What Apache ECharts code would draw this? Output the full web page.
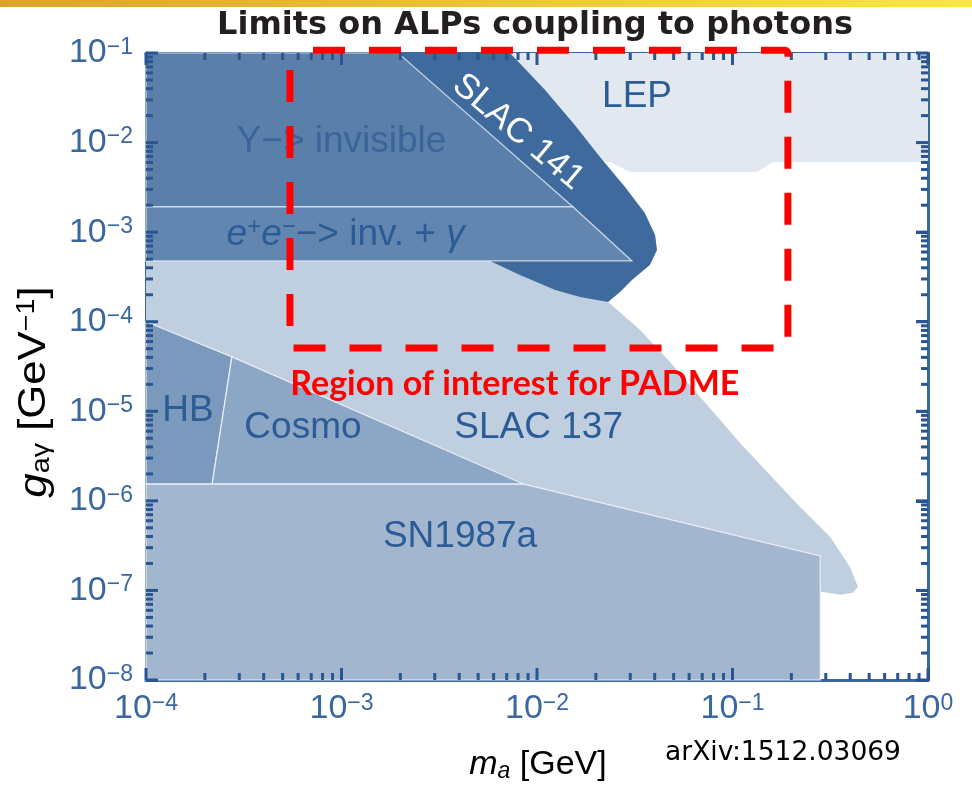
<!DOCTYPE html>
<html><head><meta charset="utf-8">
<script src="https://cdn.jsdelivr.net/npm/echarts@6/dist/echarts.min.js"></script>
<style>html,body{margin:0;padding:0;background:#fff;}#c{width:972px;height:797px;}</style>
</head><body><div id="c"></div>
<script>
// ---- axis ranges / ticks ----
const xRange = [1e-4, 1];
const yRange = [1e-8, 1e-1];
const xMajorTicks = [1e-4, 1e-3, 1e-2, 1e-1, 1];
const yMajorTicks = [1e-8, 1e-7, 1e-6, 1e-5, 1e-4, 1e-3, 1e-2, 1e-1];

// ---- excluded regions (m_a [GeV], g [GeV^-1]) ----
const lepRegion = [[3.59e-3,0.1],[1,0.1],[1,6.07e-3],[0.161,6.07e-3],[0.133,4.70e-3],[2.99e-2,4.70e-3],[2.36e-2,6.07e-3],[1.04e-2,6.9e-3]];
const slac137Region = [[1e-4,4.77e-4],[2.66e-2,4.77e-4],[2.31e-2,1.66e-4],[3.37e-2,8.09e-5],[4.79e-2,3.56e-5],[6.82e-2,1.45e-5],[0.109,4.44e-6],[0.221,8.57e-7],[0.316,3.96e-7],[0.399,1.83e-7],[0.438,1.10e-7],[0.413,9.4e-8],[0.355,8.93e-8],[0.287,9.64e-8],[0.264,9.64e-8],[1e-4,9.64e-8]];
const slac141Region = [[1.95e-3,0.1],[7.28e-3,0.1],[1.10e-2,3.86e-2],[1.56e-2,1.57e-2],[2.10e-2,6.9e-3],[2.82e-2,3.19e-3],[3.56e-2,1.64e-3],[4.02e-2,9.31e-4],[4.11e-2,6.33e-4],[3.78e-2,4.31e-4],[3.06e-2,2.93e-4],[2.66e-2,2.15e-4],[2.31e-2,1.66e-4],[1.66e-2,1.89e-4],[1.24e-2,2.26e-4],[8.18e-3,3.33e-4],[5.75e-3,4.77e-4]];
const upsilonRegion = [[1e-4,0.1],[1.95e-3,0.1],[1.53e-2,1.91e-3],[1e-4,1.91e-3]];
const eeGammaRegion = [[1e-4,1.91e-3],[1.53e-2,1.91e-3],[3.06e-2,4.77e-4],[1e-4,4.77e-4]];
const hbRegion = [[1e-4,1e-4],[2.75e-4,4.05e-5],[2.18e-4,1.55e-6],[1e-4,1.55e-6]];
const cosmoRegion = [[2.75e-4,4.05e-5],[8.47e-3,1.55e-6],[2.18e-4,1.55e-6]];
const sn1987aRegion = [[1e-4,1.55e-6],[8.47e-3,1.55e-6],[0.281,2.43e-7],[0.281,1e-8],[1e-4,1e-8]];

// ---- region of interest box: [xmin, xmax], [ymin, ymax] ----
const roiX = [5.45e-4, 0.192];
const roiY = [5.1e-5, 0.107];

// ---- region labels ----
const regionLabelText = ['LEP','Y−> invisible','e+e−−> inv. + γ','SLAC 141','HB','Cosmo','SLAC 137','SN1987a'];
const regionLabelAt = [[3.25e-2,3.23e-2],[1.0e-3,1.02e-2],[1.05e-3,9.3e-4],[8.0e-3,1.31e-2],[1.64e-4,1.0e-5],[6.35e-4,6.5e-6],[1.02e-2,6.5e-6],[4.04e-3,3.96e-7]];
const roiLabelText = 'Region of interest for PADME';
const roiLabelAt = [7.7e-3, 2.02e-5];

// minor tick positions of a log axis: 2..9 x 10^k
function minorTicks(lo, hi){
  const out=[];
  for(let e=Math.round(Math.log10(lo)); e<Math.round(Math.log10(hi)); e++){
    for(let m=2;m<=9;m++) out.push(m*Math.pow(10,e));
  }
  return out;
}
const xMinor = minorTicks(xRange[0], xRange[1]);
const yMinor = minorTicks(yRange[0], yRange[1]);

const AX = '#3a67a0';
const TICK = '#2a5590';
const FONT = 'Liberation Sans';

function poly(name, pts, fill, z, stroke){
  return {
    type:'custom', name, z, silent:true, coordinateSystem:'cartesian2d',
    encode:{x:0,y:1}, data: pts,
    renderItem(params, api){
      if(params.dataIndex!==0) return null;
      return {type:'polygon', shape:{points: pts.map(p=>api.coord(p))},
        style:{fill, stroke: stroke||null, lineWidth: stroke?1.2:0}};
    }
  };
}

function expLabel(v){
  const e = Math.round(Math.log10(v));
  return '{b|10}{e|' + (e<0 ? '−'+(-e) : e) + '}';
}
const tickRich = {
  b:{fontFamily:FONT,fontSize:34,color:AX,lineHeight:34},
  e:{fontFamily:FONT,fontSize:23,color:AX,lineHeight:20,verticalAlign:'top'}
};

const labelRich = {
  i:{fontFamily:FONT,fontSize:37,fontStyle:'italic',color:'#3b6499',lineHeight:40},
  s:{fontFamily:FONT,fontSize:24,color:'#3b6499',lineHeight:22,verticalAlign:'top'},
  n:{fontFamily:FONT,fontSize:37,color:'#3b6499',lineHeight:40}
};
function labelSpec(txt){
  const base = {fontFamily:FONT,fontSize:37,fill:'#2c5c95'};
  if(txt==='SLAC 141') return {style:{...base,fontSize:35,fill:'#ffffff'}, rotation:-0.70};
  if(txt==='Y−> invisible') return {style:{...base,fill:'#3b6499'}};
  if(txt.indexOf('e+e')===0) return {style:{...base,text:'{i|e}{s|+}{i|e}{s|−}{n|−> inv. + }{i|γ}',rich:labelRich}};
  return {style:base};
}

// tick marks (major + minor) on all four frame sides, through the axes' scales
function tickSeries(name){
  return {type:'custom',name,z:60,silent:true,clip:false,encode:{x:0,y:1},
    data:[[xRange[0], yRange[0]]],
    renderItem(params, api){
      const W = 3, kids = [];
      const b = api.coord([xRange[0], yRange[0]]);
      const t = api.coord([xRange[1], yRange[1]]);
      const addX = (v,len)=>{
        const px = api.coord([v, yRange[0]])[0];
        kids.push({type:'rect',shape:{x:px-W/2,y:b[1]-len,width:W,height:len},style:{fill:TICK}});
        kids.push({type:'rect',shape:{x:px-W/2,y:t[1],width:W,height:len},style:{fill:TICK}});
      };
      const addY = (v,len)=>{
        const py = api.coord([xRange[0], v])[1];
        kids.push({type:'rect',shape:{x:b[0],y:py-W/2,width:len,height:W},style:{fill:TICK}});
        kids.push({type:'rect',shape:{x:t[0]-len,y:py-W/2,width:len,height:W},style:{fill:TICK}});
      };
      xMinor.forEach(v=>addX(v,7));
      xMajorTicks.forEach(v=>addX(v,12));
      yMinor.forEach(v=>addY(v,7));
      yMajorTicks.forEach(v=>addY(v,12));
      return {type:'group',children:kids};
    }};
}

function axisCfg(extra){
  return Object.assign({
    type:'log',logBase:10,interval:1,
    axisLine:{show:true,onZero:false,lineStyle:{color:AX,width:3}},
    axisTick:{show:true,inside:true,length:12,lineStyle:{color:TICK,width:3}},
    splitLine:{show:false}
  }, extra);
}

const option = {
  animation:false,
  backgroundColor:'#ffffff',
  grid:{left:146,right:44,top:53,bottom:117,containLabel:false},
  xAxis:[
    axisCfg({min:xRange[0],max:xRange[1],position:'bottom',axisLabel:{margin:12,formatter:expLabel,rich:tickRich}}),
    axisCfg({min:xRange[0],max:xRange[1],position:'top',axisLabel:{show:false}})
  ],
  yAxis:[
    axisCfg({min:yRange[0],max:yRange[1],position:'left',axisLabel:{margin:13,formatter:expLabel,rich:tickRich}}),
    axisCfg({min:yRange[0],max:yRange[1],position:'right',axisLabel:{show:false}})
  ],
  series:[
    poly('LEP', lepRegion, '#e2e8f0', 1),
    poly('SLAC 137', slac137Region, '#bfcfe0', 2),
    poly('SLAC 141', slac141Region, '#3f6a9e', 3),
    poly('Y invisible', upsilonRegion, '#5b7fab', 4, 'rgba(230,236,244,0.8)'),
    poly('ee inv gamma', eeGammaRegion, '#6286b0', 4, 'rgba(230,236,244,0.8)'),
    poly('SN1987a', sn1987aRegion, '#a2b6cf', 4, 'rgba(240,244,250,0.9)'),
    poly('HB', hbRegion, '#7b99bd', 5, 'rgba(240,244,250,0.9)'),
    poly('Cosmo', cosmoRegion, '#8ca6c5', 5, 'rgba(240,244,250,0.9)'),
    {type:'custom',name:'labels',z:6,silent:true,encode:{x:0,y:1},data:regionLabelAt,
     renderItem(params, api){
       const t = regionLabelText[params.dataIndex];
       const p = api.coord(regionLabelAt[params.dataIndex]);
       const sp = labelSpec(t);
       return {type:'text',x:p[0],y:p[1],rotation:sp.rotation||0,
         style:Object.assign({text:t,align:'center',verticalAlign:'middle'},sp.style)};
     }},
    tickSeries('ticks'),
    {type:'custom',name:'roi',z:70,silent:true,clip:false,encode:{x:0,y:1},data:[[roiX[0],roiY[0]]],
     renderItem(params, api){
       const a = api.coord([roiX[0], roiY[1]]);
       const b = api.coord([roiX[1], roiY[0]]);
       return {type:'rect',shape:{x:a[0],y:a[1],width:b[0]-a[0],height:b[1]-a[1],r:3},
          style:{fill:null,stroke:'#ff0000',lineWidth:7,lineDash:[32,24],lineDashOffset:-20}};
     }},
    {type:'custom',name:'roilabel',z:70,silent:true,clip:false,encode:{x:0,y:1},data:[roiLabelAt],
     renderItem(params, api){
       const p = api.coord(roiLabelAt);
       return {type:'text',x:p[0],y:p[1],style:{text:roiLabelText,fill:'#ff0000',
         fontFamily:'Lato',fontWeight:'bold',fontSize:34,align:'center',verticalAlign:'middle'}};
     }}
  ],
  graphic:[
    {type:'rect',left:0,top:0,shape:{width:972,height:7},silent:true,
     style:{fill:new echarts.graphic.LinearGradient(0,0,1,0,[{offset:0,color:'#dea22c'},{offset:1,color:'#f8e83e'}])}},
    {type:'text',x:535,y:26,silent:true,style:{text:'Limits on ALPs coupling to photons',fill:'#231f20',
      fontFamily:'DejaVu Sans',fontWeight:'bold',fontSize:32,align:'center',verticalAlign:'middle'}},
    {type:'text',x:538,y:765,silent:true,style:{text:'{i|m}{s|a}{n| [GeV]}',align:'center',verticalAlign:'middle',
      rich:{i:{fontFamily:FONT,fontStyle:'italic',fontSize:34,color:AX,lineHeight:36},
            s:{fontFamily:FONT,fontStyle:'italic',fontSize:23,color:AX,lineHeight:21,verticalAlign:'bottom'},
            n:{fontFamily:FONT,fontSize:34,color:AX,lineHeight:36}}}},
    {type:'text',x:35,y:392,rotation:Math.PI/2,scaleX:1.15,silent:true,style:{text:'{i|g}{s|aγ}{n| [GeV}{e|−1}{n|]}',align:'center',verticalAlign:'middle',
      rich:{i:{fontFamily:FONT,fontStyle:'italic',fontSize:38,color:AX,lineHeight:40},
            s:{fontFamily:FONT,fontSize:25,color:AX,lineHeight:23,verticalAlign:'bottom'},
            e:{fontFamily:FONT,fontSize:25,color:AX,lineHeight:21,verticalAlign:'top'},
            n:{fontFamily:FONT,fontSize:38,color:AX,lineHeight:40}}}},
    {type:'text',x:665,y:753,silent:true,style:{text:'arXiv:1512.03069',fill:'#000000',
      fontFamily:'DejaVu Sans',fontSize:26.5,align:'left',verticalAlign:'middle'}}
  ]
};
const chart = echarts.init(document.getElementById('c'),null,{renderer:'canvas'});
chart.setOption(option);
</script></body></html>
